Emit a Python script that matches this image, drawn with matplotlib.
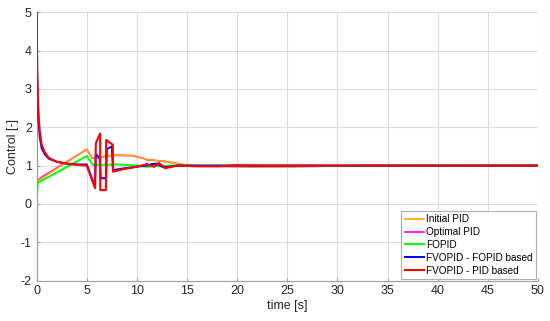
import matplotlib
matplotlib.use("Agg")
import matplotlib.pyplot as plt

plt.rcParams['font.family'] = ['Liberation Sans', 'DejaVu Sans']
plt.rcParams['axes.unicode_minus'] = False

# Initial PID
t_init = [0, 0.1, 5, 5.5, 6, 7, 8, 9.5, 10.5, 11, 12, 13, 14.3, 15, 17, 20, 25, 30, 35, 50]
u_init = [0.58, 0.6, 1.43, 1.2, 1.2, 1.25, 1.27, 1.26, 1.2, 1.15, 1.13, 1.1, 1.04, 1.01, 0.99, 0.97, 0.97, 0.99, 1.0, 1.0]

# Optimal PID
t_opt = [0, 0.1, 0.5, 5, 5.5, 6, 7, 8, 9.5, 10.5, 11, 12, 13, 14.3, 15, 17, 20, 25, 30, 35, 50]
u_opt = [0.6, 0.62, 0.7, 1.42, 1.2, 1.2, 1.25, 1.27, 1.26, 1.2, 1.15, 1.13, 1.1, 1.04, 1.01, 0.99, 0.97, 0.97, 0.99, 1.0, 1.0]

# FOPID
t_fo = [0, 0.02, 0.1, 5, 5.6, 6.5, 8, 10, 11, 12, 14, 20, 50]
u_fo = [3.3, 0.16, 0.55, 1.25, 1.02, 1.02, 1.03, 1.0, 0.97, 0.99, 1.0, 1.0, 1.0]

# FVOPID - FOPID based
t_fvfo = [0, 0.05, 0.15, 0.3, 0.5, 0.8, 1.2, 2, 3, 4, 5, 5.8, 5.9, 6.27, 6.4, 6.93, 7.0, 7.5, 7.6,
          8.5, 10, 11, 11.5, 12, 12.5, 13, 14, 16, 20, 50]
u_fvfo = [5, 3.3, 2.3, 1.75, 1.45, 1.3, 1.18, 1.1, 1.05, 1.03, 1.03, 0.45, 1.3, 1.2, 0.67, 0.67, 1.43, 1.5, 0.88,
          0.92, 0.97, 1.0, 1.04, 1.05, 0.97, 0.96, 1.0, 1.0, 1.0, 1.0]

# FVOPID - PID based
t_fvpid = [0, 0.05, 0.15, 0.3, 0.5, 0.8, 1.2, 2, 3, 4, 5, 5.83, 5.9, 6.33, 6.34, 6.9, 6.93, 7.6, 7.62,
           8.5, 10, 11, 11.7, 12.2, 12.8, 14, 16, 18, 20, 22, 25, 30, 50]
u_fvpid = [5, 3.5, 2.5, 1.9, 1.55, 1.35, 1.2, 1.1, 1.05, 1.02, 1.0, 0.41, 1.58, 1.84, 0.36, 0.36, 1.67, 1.54, 0.84,
           0.9, 0.97, 1.04, 0.97, 1.07, 0.93, 1.0, 0.98, 0.98, 1.01, 1.0, 1.0, 1.0, 1.0]

x_ticks = list(range(0, 51, 5))
y_ticks = list(range(-2, 6))

fig = plt.figure(figsize=(5.5, 3.21), dpi=100)
ax = fig.add_axes([0.0667, 0.126, 0.9113, 0.8357])

ax.plot(t_opt, u_opt, color='#ff00ff', lw=1.2, label='Optimal PID', zorder=2)
ax.plot(t_init, u_init, color='#ffa500', lw=1.2, label='Initial PID', zorder=3)
ax.plot(t_fo, u_fo, color='#00ff00', lw=1.4, label='FOPID', zorder=4)
ax.plot(t_fvfo, u_fvfo, color='#0000ff', lw=1.4, label='FVOPID - FOPID based', zorder=5)
ax.plot(t_fvpid, u_fvpid, color='#ff0000', lw=1.5, label='FVOPID - PID based', zorder=6)

ax.set_xlim(0, 50)
ax.set_ylim(-2, 5)
ax.set_xticks(x_ticks)
ax.set_yticks(y_ticks)
ax.grid(True, color='#dcdcdc', lw=0.8)
ax.set_axisbelow(True)
for s in ['top', 'right']:
    ax.spines[s].set_visible(False)
for s in ['left', 'bottom']:
    ax.spines[s].set_color('#a0a0a0')
    ax.spines[s].set_linewidth(0.8)
ax.tick_params(direction='in', length=2, colors='#a0a0a0', labelcolor='#262626', labelsize=9)

ax.set_xlabel('time [s]', fontsize=9, color='#262626', labelpad=2)
ax.set_ylabel('Control [-]', fontsize=9, color='#262626', labelpad=1)

handles, labels = ax.get_legend_handles_labels()
order = ['Initial PID', 'Optimal PID', 'FOPID', 'FVOPID - FOPID based', 'FVOPID - PID based']
hmap = dict(zip(labels, handles))
leg = ax.legend([hmap[k] for k in order], order, loc='lower right', fontsize=7.2,
                frameon=True, fancybox=False, edgecolor='#b0b0b0', framealpha=1,
                handlelength=1.9, handletextpad=0.25, borderpad=0.35, labelspacing=0.28,
                borderaxespad=0.15)
leg.get_frame().set_linewidth(0.8)

fig.savefig('out.png', dpi=100)
